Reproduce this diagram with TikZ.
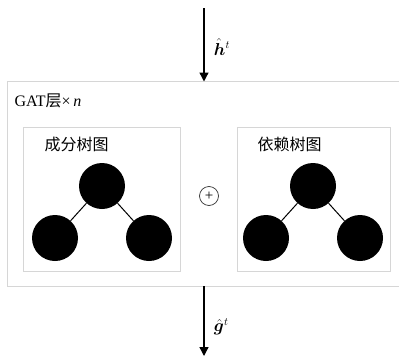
\documentclass[tikz,border=0pt]{standalone}
\usepackage{fontspec}
\setmainfont{Liberation Serif}
\newfontfamily\cjk{Noto Sans CJK SC}
\usepackage{amsmath,bm}
\usetikzlibrary{arrows.meta}
\definecolor{boxgray}{RGB}{214,214,214}

\begin{document}
\begin{tikzpicture}[x=1pt,y=-1pt,>={Triangle[length=9pt,width=9pt]},font=\fontsize{16}{18}\selectfont,
  panel/.style={draw=boxgray,line width=1pt},
  vertex/.style={circle,fill=black,minimum size=46pt,inner sep=0pt},
  edge/.style={line width=1pt},
  flow/.style={->,line width=1.3pt}]
\useasboundingbox (0,0) rectangle (399,356);
% outer layer box, open on the right
\draw[panel] (410,81.5) -- (7,81.5) -- (7,286) -- (410,286);
\node[anchor=west] (gat) at (11,101) {GAT{\cjk 层}×\,\textit{n}};
% the two graph panels
\draw[panel] (23,127) rectangle (180,271);
\draw[panel] (237,127) rectangle (390,271);
\node[anchor=west] (ctitle) at (41,144) {\cjk 成分树图};
\node[anchor=west] (dtitle) at (254,144) {\cjk 依赖树图};
% constituency tree
\node[vertex] (ct) at (102,186) {};
\node[vertex] (cl) at (55,238) {};
\node[vertex] (cr) at (149,238) {};
\draw[edge] (ct) -- (cl);
\draw[edge] (ct) -- (cr);
% dependency tree
\node[vertex] (dt) at (313,186) {};
\node[vertex] (dl) at (266,238) {};
\node[vertex] (dr) at (360,238) {};
\draw[edge] (dt) -- (dl);
\draw[edge] (dt) -- (dr);
\node[circle,draw=black!80,line width=0.7pt,minimum size=19pt,inner sep=0pt,
  font=\fontsize{15}{15}\selectfont] (sum) at (209,196) {+};
% input and output
\coordinate (hin) at (204,8);
\coordinate (htip) at (204,81.5);
\draw[flow] (hin) -- (htip) node[pos=0.53,right=6pt] (hlab) {$\hat{\bm h}^{t}$};
\coordinate (gout) at (204,286);
\coordinate (gtip) at (204,356);
\draw[flow] (gout) -- (gtip) node[pos=0.58,right=6pt] (glab) {$\hat{\bm g}^{t}$};
\end{tikzpicture}
\end{document}
